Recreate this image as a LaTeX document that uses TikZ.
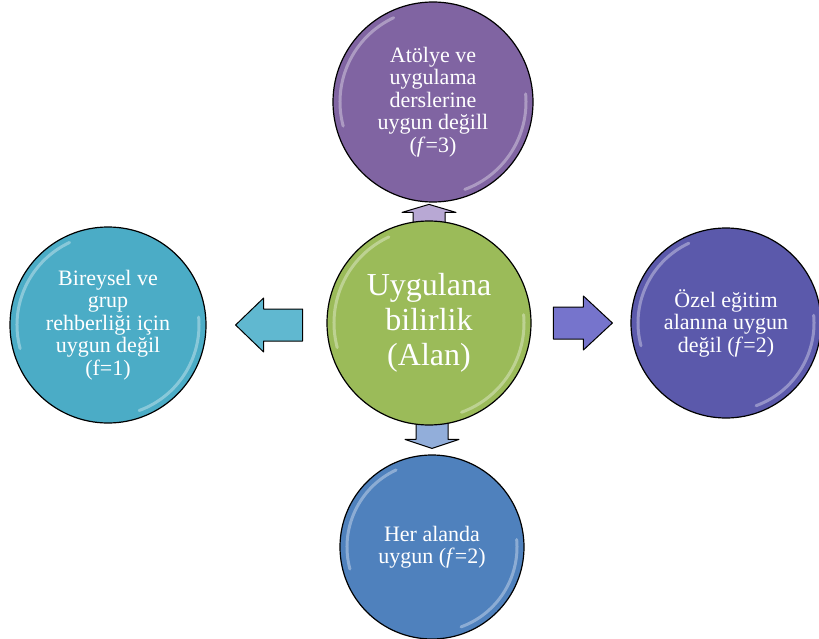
\documentclass[tikz,border=0pt]{standalone}
\usepackage{fontspec}
\setmainfont{Liberation Serif}
\usetikzlibrary{calc,backgrounds}
\definecolor{olivegreen}{HTML}{9BBB59}
\definecolor{plumtop}{HTML}{8064A2}
\definecolor{tealleft}{HTML}{4BACC6}
\definecolor{indigoright}{RGB}{91,89,171}
\definecolor{bluebottom}{HTML}{4F81BD}
\definecolor{arrowteal}{RGB}{96,184,208}
\definecolor{arrowindigo}{RGB}{118,116,204}
\definecolor{arrowplum}{RGB}{184,168,212}
\definecolor{arrowblue}{RGB}{146,174,218}

\tikzset{
  pics/blockarrow/.style args={#1/#2/#3}{code={
    \path[draw=black, line width=1pt, line join=round, fill=#3]
      (0,0) -- (-#2,27) -- (-#2,16) -- (-#1,16) -- (-#1,-16) -- (-#2,-16) -- (-#2,-27) -- cycle;
  }}
}

\begin{document}
\begin{tikzpicture}[x=1pt, y=-1pt,
  bubble/.style={circle, draw=black, line width=1.2pt, text=white, align=center, inner sep=0pt, font=\fontsize{22}{22.5}\selectfont},
  gloss/.style={white, opacity=0.35, line width=3pt, line cap=round}
]
  \useasboundingbox (0,0) rectangle (819,639);
  % circles
  \node[bubble, fill=olivegreen, minimum size=204pt, font=\fontsize{32}{35}\selectfont] (centre) at (429,323) {Uygulana\\bilirlik\\(Alan)};
  \node[bubble, fill=plumtop, minimum size=200pt] (atolye) at (433,102) {Atölye ve\\uygulama\\derslerine\\uygun değill\\(\textit{f}=3)};
  \node[bubble, fill=tealleft, minimum size=196pt] (rehber) at (108,325) {Bireysel ve\\grup\\rehberliği için\\uygun değil\\(f=1)};
  \node[bubble, fill=indigoright, minimum size=190pt] (ozel) at (726,323) {Özel eğitim\\alanına uygun\\değil (\textit{f}=2)};
  \node[bubble, fill=bluebottom, minimum size=184pt] (heralan) at (432,547) {Her alanda\\uygun (\textit{f}=2)};
  % glossy rims
  \foreach \n/\r in {centre/95, atolye/93, rehber/91, ozel/88, heralan/85} {
    \draw[gloss] (\n.center) ++(115:\r pt) arc[start angle=115, end angle=195, radius=\r pt];
    \draw[gloss] (\n.center) ++(-70:\r pt) arc[start angle=-70, end angle=5, radius=\r pt];
  }
  % block arrows
  \begin{scope}[on background layer]
    \pic[rotate=180] at ($(rehber.east)+(29,0)$) {blockarrow=67/28/arrowteal};
    \pic at ($(ozel.west)+(-18,0)$) {blockarrow=59/29/arrowindigo};
    \pic[rotate=90] at ($(centre.north)+(0,-16)$) {blockarrow=30/8/arrowplum};
    \pic[rotate=-90] at ($(heralan.north)+(0,-6)$) {blockarrow=30/9/arrowblue};
  \end{scope}
\end{tikzpicture}
\end{document}
